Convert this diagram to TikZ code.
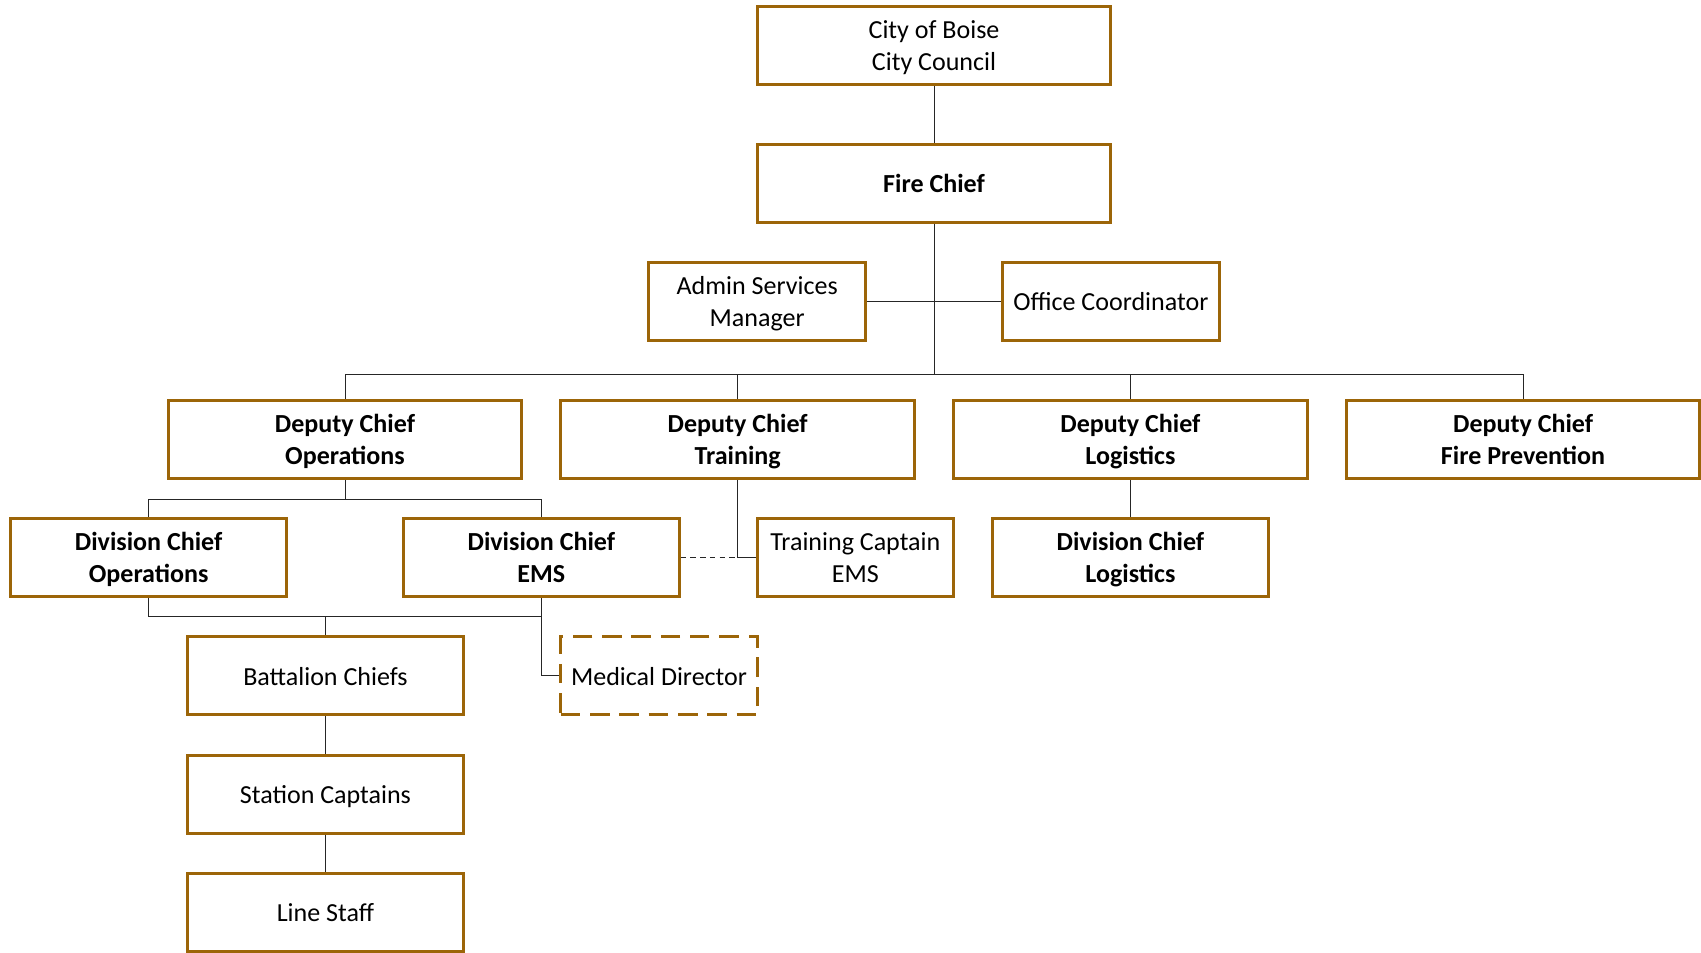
\documentclass[tikz,border=0pt]{standalone}
\usepackage{fontspec}
\setmainfont{Carlito}
\definecolor{boxc}{RGB}{156,101,8}
\newcommand{\myst}{\rule[-6pt]{0pt}{29pt}}
\begin{document}
\begin{tikzpicture}[x=1pt,y=1pt,
  box/.style={draw=boxc, line width=2.7pt, fill=white, minimum width=#1, minimum height=72pt,
    inner sep=0pt, align=center, font=\fontsize{24}{29.5}\selectfont},
  bbox/.style={box=#1, font=\fontsize{24}{29.5}\selectfont\bfseries},
  conn/.style={draw=black!85, line width=0.8pt},
  dconn/.style={conn, dash pattern=on 5pt off 4pt}]
\useasboundingbox (0,0) rectangle (1568,-878);
% nodes
\node[box=326pt] (city) at (861,-42) {\myst City of Boise\\\myst City Council};
\node[bbox=326pt] (fire) at (861,-169) {\myst Fire Chief};
\node[box=200pt] (admin) at (698,-278) {\myst Admin Services\\\myst Manager};
\node[box=200pt] (office) at (1024,-278) {\myst Office Coordinator};
\node[bbox=326pt] (depops) at (318,-405) {\myst Deputy Chief\\\myst Operations};
\node[bbox=326pt] (deptr) at (680,-405) {\myst Deputy Chief\\\myst Training};
\node[bbox=326pt] (deplog) at (1042,-405) {\myst Deputy Chief\\\myst Logistics};
\node[bbox=326pt] (depfp) at (1404,-405) {\myst Deputy Chief\\\myst Fire Prevention};
\node[bbox=254pt] (divops) at (137,-514) {\myst Division Chief\\\myst Operations};
\node[bbox=254pt] (divems) at (499,-514) {\myst Division Chief\\\myst EMS};
\node[box=181pt] (tcap) at (788.5,-514) {\myst Training Captain\\\myst EMS};
\node[bbox=254pt] (divlog) at (1042,-514) {\myst Division Chief\\\myst Logistics};
\node[box=254pt] (batt) at (300,-623) {\myst Battalion Chiefs};
\node[box=181pt, dash pattern=on 18pt off 9pt] (med) at (607.5,-623) {\myst Medical Director};
\node[box=254pt] (stcap) at (300,-732) {\myst Station Captains};
\node[box=254pt] (line) at (300,-841) {\myst Line Staff};
% bus points
\coordinate (bus1) at (861,-345);
\coordinate (bus2) at (318,-460);
\coordinate (bus3) at (300,-568);
% connectors
\draw[conn] (city.south) -- (fire.north);
\draw[conn] (fire.south) -- (bus1);
\draw[conn] (admin.east) -- (office.west);
\draw[conn] (depops.north) |- (bus1) -| (depfp.north);
\draw[conn] (deptr.north) -- (deptr.north |- bus1);
\draw[conn] (deplog.north) -- (deplog.north |- bus1);
\draw[conn] (depops.south) -- (bus2);
\draw[conn] (divops.north) |- (bus2) -| (divems.north);
\draw[conn] (deptr.south) |- (tcap.west);
\draw[dconn] (divems.east) -- (tcap.west);
\draw[conn] (deplog.south) -- (divlog.north);
\draw[conn] (divops.south) |- (bus3) -| (divems.south);
\draw[conn] (divems.south) |- (med.west);
\draw[conn] (bus3) -- (batt.north);
\draw[conn] (batt.south) -- (stcap.north);
\draw[conn] (stcap.south) -- (line.north);
\end{tikzpicture}
\end{document}
